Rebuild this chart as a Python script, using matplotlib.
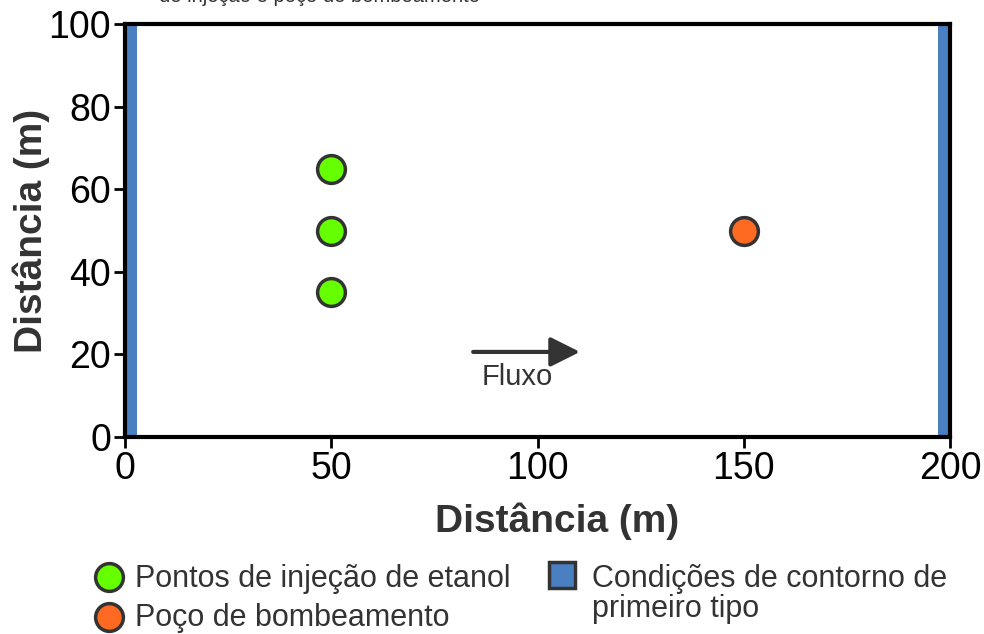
import numpy as np
import matplotlib.pyplot as plt
from matplotlib.patches import Rectangle
from matplotlib.lines import Line2D

plt.rcParams["font.family"] = ["Liberation Sans", "DejaVu Sans"]

# injection points and pumping well (x, y in m)
inj_x = [50, 50, 50]
inj_y = [35, 50, 65]
well_x = [150]
well_y = [50]

# first-type boundary strips (x start, width)
bound_x = [0, 197]
bound_w = [3, 3]

# flow arrow (start, end) and label
flow_x = [84.4, 110.3]
flow_y = 20.6

x_ticks = [0, 50, 100, 150, 200]
y_ticks = [0, 20, 40, 60, 80, 100]

leg_labels = ["Pontos de injeção de etanol", "Poço de bombeamento",
              "Condições de contorno de\nprimeiro tipo"]

green = "#66ff00"
orange = "#ff6a22"
blue = "#4a7fc1"
dark = "#333333"

W, H = 984, 634
fig = plt.figure(figsize=(W / 100, H / 100), dpi=100)
ax = fig.add_axes([125 / W, 1 - 437 / H, 825 / W, 413 / H])

for bx, bw in zip(bound_x, bound_w):
    ax.add_patch(Rectangle((bx, 0), bw, 100, facecolor=blue, edgecolor="none", zorder=1))

ax.plot(inj_x, inj_y, "o", ms=20, mfc=green, mec=dark, mew=2.5, ls="none", zorder=3)
ax.plot(well_x, well_y, "o", ms=20, mfc=orange, mec=dark, mew=2.5, ls="none", zorder=3)

ax.annotate("", xy=(flow_x[1], flow_y), xytext=(flow_x[0], flow_y),
            arrowprops=dict(arrowstyle="-|>,head_length=1.8,head_width=0.9",
                            color=dark, lw=3, shrinkA=0, shrinkB=0))
ax.text(95, 12.6, "Fluxo", ha="center", va="baseline", fontsize=21, color=dark)

ax.set_xlim(0, 200)
ax.set_ylim(0, 100)
ax.set_xticks(x_ticks)
ax.set_yticks(y_ticks)
ax.tick_params(labelsize=27, length=8, width=2, direction="out", pad=2)
for sp in ax.spines.values():
    sp.set_linewidth(3)
ax.set_xlabel("Distância (m)", fontsize=28, fontweight="bold", color=dark, labelpad=11)
ax.xaxis.label.set_x(0.524)
ax.set_ylabel("Distância (m)", fontsize=28, fontweight="bold", color=dark, labelpad=-1)


def fy(py):
    return 1 - py / H


# legend drawn by hand so the two-line entry lines up like the original
leg_marks = [("o", green, 109, 577), ("o", orange, 109, 617), ("s", blue, 562, 575)]
for mk, col, px, py in leg_marks:
    ms = 20 if mk == "o" else 19
    fig.add_artist(Line2D([px / W], [fy(py)], transform=fig.transFigure, marker=mk,
                          ms=ms, mfc=col, mec=dark, mew=2.5, ls="none"))
fig.text(135 / W, fy(587), leg_labels[0], fontsize=22, color=dark, va="baseline")
fig.text(135 / W, fy(626), leg_labels[1], fontsize=22, color=dark, va="baseline")
fig.text(592 / W, fy(617), leg_labels[2], fontsize=22, color=dark, va="baseline",
         linespacing=0.98)

fig.text(0.325, fy(2), "de injeção e poço de bombeamento", ha="center",
         va="baseline", fontsize=14.5, color=dark)

fig.savefig("out.png", dpi=100)
